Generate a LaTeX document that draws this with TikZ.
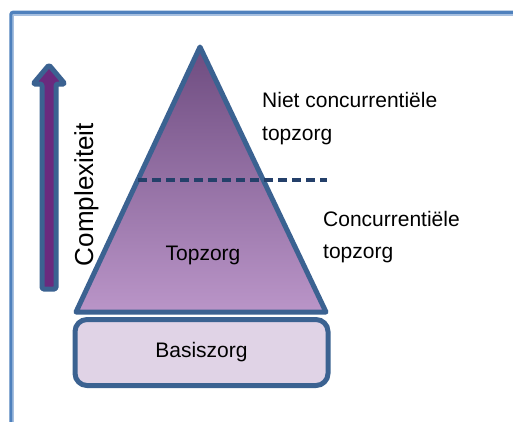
\documentclass[tikz,border=0pt]{standalone}
\usepackage{fontspec}
\setmainfont{Liberation Sans}
\definecolor{frameblue}{HTML}{4F81BD}
\definecolor{framelight}{HTML}{A7C0E0}
\definecolor{edgeblue}{HTML}{3B6291}
\definecolor{dashblue}{HTML}{24406A}
\definecolor{triTop}{HTML}{6E4C80}
\definecolor{triBot}{HTML}{BA95C8}
\definecolor{basefill}{HTML}{E0D3E6}
\definecolor{arrowpurple}{HTML}{6A2A7E}
\tikzset{
  lbl/.style={font=\fontsize{21}{25}\selectfont, inner sep=0pt, text=black},
  edge/.style={draw=edgeblue, line width=5pt, line join=round},
}
\begin{document}
\begin{tikzpicture}[x=1pt,y=-1pt]
\useasboundingbox (0,0) rectangle (513,421);
% frame
\draw[framelight, line width=1.6pt] (13.5,430) -- (13.5,15) -- (530,15);
\draw[frameblue, line width=3.2pt, rounded corners=2pt] (11,430) -- (11,12.3) -- (530,12.3);
% complexity arrow
\draw[edge, fill=arrowpurple, line width=5pt, rounded corners=1.5pt]
  (42,289) -- (42,84) -- (33,84) -- (49,65) -- (65,84) -- (56,84) -- (56,289) -- cycle;
\node[lbl, font=\fontsize{26}{30}\selectfont, rotate=90, anchor=base] (cx) at (93,194.5) {Complexiteit};
% pyramid
\coordinate (apex) at (200,47);
\coordinate (bl) at (76,312);
\coordinate (br) at (326,312);
\draw[edge, top color=triTop, bottom color=triBot] (apex) -- (bl) -- (br) -- cycle;
% dashed divider
\coordinate (d1) at (138,180);
\coordinate (d2) at (327,180);
\draw[dashblue, line width=3.5pt, dash pattern=on 9pt off 5pt] (d1) -- (d2);
% base box
\node[lbl, edge, fill=basefill, rounded corners=12pt, minimum width=253pt, minimum height=66pt] (basis) at (201.5,352.5) {Basiszorg};
% labels
\node[lbl, anchor=base] (top) at (203,260) {Topzorg};
\node[lbl, anchor=base west] (nc1) at (262,107) {Niet concurrentiële};
\node[lbl, anchor=base west] (nc2) at (262,140) {topzorg};
\node[lbl, anchor=base west] (c1) at (323,226) {Concurrentiële};
\node[lbl, anchor=base west] (c2) at (323,258) {topzorg};
\end{tikzpicture}
\end{document}
